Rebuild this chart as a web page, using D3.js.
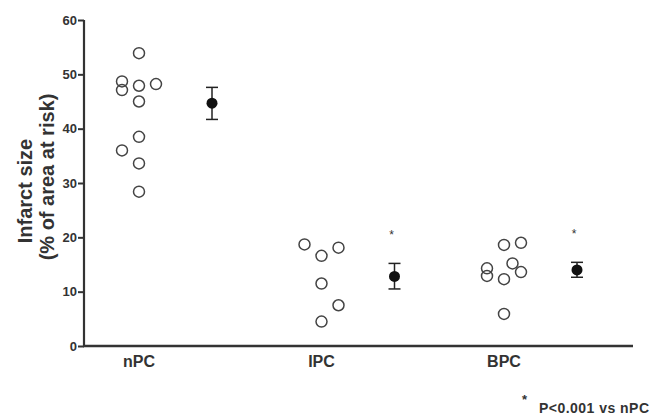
<!DOCTYPE html>
<html>
<head>
<meta charset="utf-8">
<script src="https://cdn.jsdelivr.net/npm/d3@7"></script>
<style>
  body { margin: 0; background: #fff; }
  text { font-family: "Liberation Sans", Arial, sans-serif; font-weight: bold; fill: #333; }
</style>
</head>
<body>
<div class="visHolder"></div>
<script>
// groups and individual infarct sizes (% of area at risk)
const groups = ["nPC", "IPC", "BPC"];
const nPCValues = [53.9, 48.7, 47.1, 47.9, 48.2, 45.0, 38.5, 36.0, 33.6, 28.4];
const nPCColumns = [0, -1, -1, 0, 1, 0, 0, -1, 0, 0];
const IPCValues = [18.7, 16.6, 18.1, 11.5, 7.5, 4.5];
const IPCColumns = [-1, 0, 1, 0, 1, 0];
const BPCValues = [14.3, 12.9, 18.6, 12.3, 5.9, 15.2, 19.0, 13.6];
const BPCColumns = [-1, -1, 0, 0, 0, 0.5, 1, 1];
// mean and error bar ends
const means = [44.7, 12.8, 14.0];
const errLow = [41.7, 10.5, 12.65];
const errHigh = [47.6, 15.2, 15.4];
const significant = [false, true, true];
const yTicks = [0, 10, 20, 30, 40, 50, 60];

const w = 652, h = 418;
const margin = { top: 20, left: 84, bottom: 72, right: 19 };

const svg = d3.select(".visHolder")
  .append("svg")
  .attr("width", w)
  .attr("height", h);

const y = d3.scaleLinear().domain([0, 60]).range([346, 20]);
const x = d3.scalePoint().domain(groups).range([139, 504]);
const col = d3.scaleLinear().domain([-1, 1]).range([-17, 17]);
const meanOffset = 73;

// axes
const yAxis = svg.append("g")
  .attr("transform", "translate(" + margin.left + ",0)")
  .call(d3.axisLeft(y).tickValues(yTicks).tickSize(6).tickPadding(1));
yAxis.select(".domain").attr("stroke", "#333").attr("stroke-width", 2.2)
  .attr("d", "M0," + (y(0) + 1) + "V" + y(60));
yAxis.selectAll(".tick line").attr("stroke", "#333").attr("stroke-width", 2);
yAxis.selectAll(".tick text").style("font-size", "13px");

svg.append("line")
  .attr("x1", margin.left - 1).attr("x2", 633)
  .attr("y1", y(0)).attr("y2", y(0))
  .attr("stroke", "#333").attr("stroke-width", 2.4);

svg.append("g").selectAll("text")
  .data(groups)
  .enter().append("text")
  .attr("x", d => x(d))
  .attr("y", 367)
  .attr("text-anchor", "middle")
  .style("font-size", "16px")
  .text(d => d);

// y label
svg.append("text")
  .attr("transform", "translate(32,191) rotate(-90)")
  .attr("text-anchor", "middle")
  .style("font-size", "20px")
  .text("Infarct size");
svg.append("text")
  .attr("transform", "translate(54,177) rotate(-90)")
  .attr("text-anchor", "middle")
  .style("font-size", "20px")
  .text("(% of area at risk)");

// individual points
const valueSets = [nPCValues, IPCValues, BPCValues];
const columnSets = [nPCColumns, IPCColumns, BPCColumns];
groups.forEach((g, i) => {
  const pts = valueSets[i].map((v, j) => ({ v: v, c: columnSets[i][j] }));
  svg.append("g").selectAll("circle")
    .data(pts)
    .enter().append("circle")
    .attr("cx", d => x(g) + col(d.c))
    .attr("cy", d => y(d.v))
    .attr("r", 5.5)
    .attr("fill", "none")
    .attr("stroke", "#444")
    .attr("stroke-width", 1.5);
});

// means with error bars
const mg = svg.append("g").selectAll("g")
  .data(groups)
  .enter().append("g");
mg.append("line")
  .attr("x1", d => x(d) + meanOffset).attr("x2", d => x(d) + meanOffset)
  .attr("y1", (d, i) => y(errLow[i])).attr("y2", (d, i) => y(errHigh[i]))
  .attr("stroke", "#222").attr("stroke-width", 1.5);
[errLow, errHigh].forEach(arr => {
  mg.append("line")
    .attr("x1", d => x(d) + meanOffset - 6).attr("x2", d => x(d) + meanOffset + 6)
    .attr("y1", (d, i) => y(arr[i])).attr("y2", (d, i) => y(arr[i]))
    .attr("stroke", "#222").attr("stroke-width", 1.5);
});
mg.append("circle")
  .attr("cx", d => x(d) + meanOffset)
  .attr("cy", (d, i) => y(means[i]))
  .attr("r", 5.5)
  .attr("fill", "#111");
mg.filter(d => significant[groups.indexOf(d)]).append("text")
  .attr("x", d => x(d) + meanOffset - 3)
  .attr("y", d => y(errHigh[groups.indexOf(d)]) - 24)
  .attr("text-anchor", "middle")
  .style("font-size", "12px")
  .style("font-weight", "normal")
  .text("*");

// footnote
svg.append("text")
  .attr("x", 522).attr("y", 404)
  .style("font-size", "13px")
  .text("*");
svg.append("text")
  .attr("x", 539).attr("y", 413)
  .style("font-size", "14px")
  .attr("textLength", 110)
  .text("P<0.001 vs nPC");
</script>
</body>
</html>
